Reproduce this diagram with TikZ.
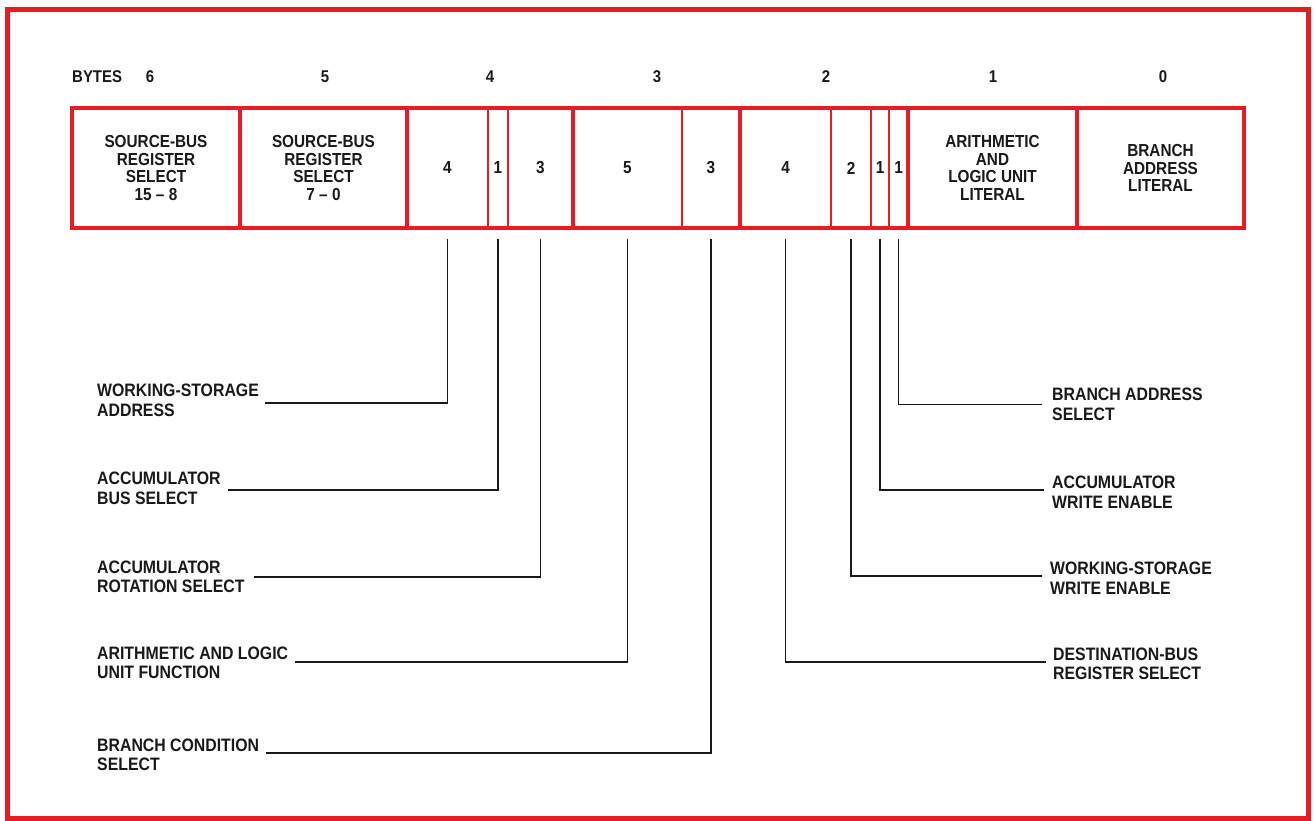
\documentclass[tikz,border=0pt]{standalone}
\usepackage{fontspec}
\setmainfont{Liberation Sans}
\newfontfamily\condfont[FakeStretch=0.88,Ligatures=TeX]{Liberation Sans}
\definecolor{frred}{RGB}{232,28,36}
\definecolor{ink}{RGB}{25,25,25}
\begin{document}
\begin{tikzpicture}[x=1pt,y=-1pt,
  lab/.style={font=\condfont\bfseries\fontsize{18}{19.5}\selectfont, align=left, anchor=west, inner sep=0pt, text=ink},
  num/.style={font=\condfont\bfseries\fontsize{17}{17}\selectfont, inner sep=0pt, text=ink},
  fld/.style={draw=frred, line width=1.6pt, minimum height=120pt, inner sep=0pt, text=ink,
              font=\condfont\bfseries\fontsize{17.4}{17.5}\selectfont, align=center},
  bytebox/.style={draw=frred, line width=3.5pt, minimum height=120pt, inner sep=0pt, text=ink,
              font=\condfont\bfseries\fontsize{17.4}{17.5}\selectfont, align=center},
  conn/.style={draw=ink, line width=1.6pt}
]
\useasboundingbox (0,0) rectangle (1315,821);
\draw[frred, line width=5pt] (7,10) rectangle (1308,818);

% byte numbers
\node[num, anchor=west] (bytes) at (72,77) {BYTES};
\node[num] (n6) at (150,77) {6};
\node[num] (n5) at (325,77) {5};
\node[num] (n4) at (490,77) {4};
\node[num] (n3) at (657,77) {3};
\node[num] (n2) at (826,77) {2};
\node[num] (n1) at (993,77) {1};
\node[num] (n0) at (1163,77) {0};

% sub-fields (thin)
\node[fld, minimum width=81pt] (f4a) at (447.5,168) {4};
\node[fld, minimum width=20pt] (f4b) at (498,168) {1};
\node[fld, minimum width=65pt] (f4c) at (540.5,168) {3};
\node[fld, minimum width=109pt] (f3a) at (627.5,168) {5};
\node[fld, minimum width=58pt] (f3b) at (711,168) {3};
\node[fld, minimum width=91pt] (f2a) at (785.5,168) {4};
\node[fld, minimum width=40pt] (f2b) at (851,168) {2};
\node[fld, minimum width=18pt] (f2c) at (880,168) {1};
\node[fld, minimum width=19pt] (f2d) at (898.5,168) {1};

% bytes (thick)
\node[bytebox, minimum width=168pt] (b6) at (156,168) {SOURCE-BUS\\REGISTER\\SELECT\\15 – 8};
\node[bytebox, minimum width=167pt] (b5) at (323.5,168) {SOURCE-BUS\\REGISTER\\SELECT\\7 – 0};
\node[bytebox, minimum width=166pt] (b4) at (490,168) {};
\node[bytebox, minimum width=167pt] (b3) at (656.5,168) {};
\node[bytebox, minimum width=168pt] (b2) at (824,168) {};
\node[bytebox, minimum width=169pt] (b1) at (992.5,168) {ARITHMETIC\\AND\\LOGIC UNIT\\LITERAL};
\node[bytebox, minimum width=167pt] (b0) at (1160.5,168) {BRANCH\\ADDRESS\\LITERAL};

% left labels
\node[lab] (wsa) at (97,400.5) {WORKING-STORAGE\\ADDRESS};
\node[lab] (abs) at (97,488.5) {ACCUMULATOR\\BUS SELECT};
\node[lab] (ars) at (97,577) {ACCUMULATOR\\ROTATION SELECT};
\node[lab] (alf) at (97,663) {ARITHMETIC AND LOGIC\\UNIT FUNCTION};
\node[lab] (bcs) at (97,755) {BRANCH CONDITION\\SELECT};
% right labels
\node[lab] (bas) at (1052,404.5) {BRANCH ADDRESS\\SELECT};
\node[lab] (awe) at (1052,492) {ACCUMULATOR\\WRITE ENABLE};
\node[lab] (wswe) at (1050,578) {WORKING-STORAGE\\WRITE ENABLE};
\node[lab] (dbrs) at (1053,664) {DESTINATION-BUS\\REGISTER SELECT};

% connectors
\draw[conn] ([yshift=-10pt]f4a.south) |- ([xshift=6pt,yshift=-2.5pt]wsa.east);
\draw[conn] ([yshift=-10pt]f4b.south) |- ([xshift=7pt,yshift=-1.5pt]abs.east);
\draw[conn] ([yshift=-10pt]f4c.south) |- ([xshift=9pt]ars.east);
\draw[conn] ([yshift=-10pt]f3a.south) |- ([xshift=7pt,yshift=1pt]alf.east);
\draw[conn] ([yshift=-10pt]f3b.south) |- ([xshift=7pt,yshift=2pt]bcs.east);
\draw[conn] ([yshift=-10pt]f2d.south) |- ([xshift=-10pt]bas.west);
\draw[conn] ([yshift=-10pt]f2c.south) |- ([xshift=-8pt,yshift=2pt]awe.west);
\draw[conn] ([yshift=-10pt]f2b.south) |- ([xshift=-8pt,yshift=2pt]wswe.west);
\draw[conn] ([yshift=-10pt]f2a.south) |- ([xshift=-7pt,yshift=2pt]dbrs.west);
\end{tikzpicture}
\end{document}
